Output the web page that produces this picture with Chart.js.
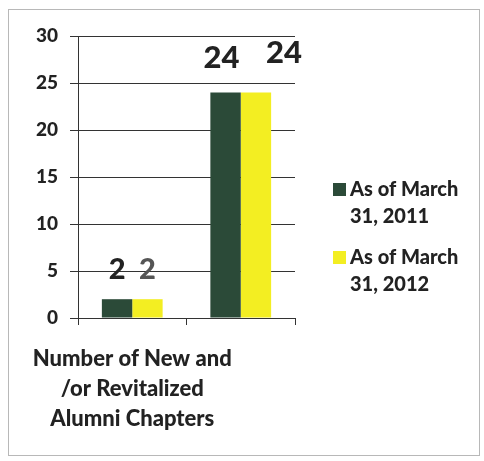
<!DOCTYPE html>
<html>
<head>
<meta charset="utf-8">
<script src="https://cdn.jsdelivr.net/npm/chart.js@4/dist/chart.umd.min.js"></script>
<style>
  html, body { margin: 0; padding: 0; background: #fff; }
  #wrap { position: relative; width: 484px; height: 461px; }
  #frame { position: absolute; left: 8px; top: 9px; width: 472px; height: 447px; border: 1px solid #b8b8b8; box-sizing: border-box; }
</style>
</head>
<body>
<div id="wrap">
  <div id="frame"></div>
  <canvas id="chart" width="484" height="461"></canvas>
</div>
<script>
// Chapters counts
const categories = [['Number of New and', '/or Revitalized', 'Alumni Chapters'], ''];
const series2011 = [2, 24];
const series2012 = [2, 24];
const seriesNames = [['As of March', '31, 2011'], ['As of March', '31, 2012']];
const yTicks = [0, 5, 10, 15, 20, 25, 30];

const FONT = 'Lato, "Open Sans", sans-serif';
const DARK = '#2b4a38';
const YELLOW = '#f3ee22';

// value labels above bars, offsets per dataset/bar
const labelOffsets = [
  [{ dx: 0, dy: -30, color: '#222' }, { dx: -4, dy: -34, color: '#222' }],
  [{ dx: 0, dy: -30, color: '#555' }, { dx: 28, dy: -39, color: '#222' }],
];

const valueLabels = {
  id: 'valueLabels',
  afterDatasetsDraw(chart) {
    const ctx = chart.ctx;
    ctx.save();
    ctx.textAlign = 'center';
    ctx.textBaseline = 'middle';
    chart.data.datasets.forEach((ds, di) => {
      chart.getDatasetMeta(di).data.forEach((bar, i) => {
        const o = labelOffsets[di][i];
        const size = ds.data[i] >= 10 ? 31 : 29;
        ctx.font = `900 ${size}px ${FONT}`;
        ctx.fillStyle = o.color;
        ctx.fillText(String(ds.data[i]), bar.x + o.dx, bar.y + o.dy);
      });
    });
    ctx.restore();
  }
};

// legend on the right, two-line entries
const sideLegend = {
  id: 'sideLegend',
  afterDraw(chart) {
    const ctx = chart.ctx;
    ctx.save();
    ctx.font = `900 20px ${FONT}`;
    ctx.textBaseline = 'middle';
    ctx.textAlign = 'left';
    const x = 333, tops = [190, 258];
    chart.data.datasets.forEach((ds, di) => {
      const y = tops[di];
      ctx.fillStyle = ds.backgroundColor;
      ctx.fillRect(x, y - 7, 13, 13);
      ctx.fillStyle = '#222';
      seriesNames[di].forEach((line, li) => {
        ctx.fillText(line, x + 17, y + li * 27);
      });
    });
    ctx.restore();
  }
};

new Chart(document.getElementById('chart'), {
  type: 'bar',
  data: {
    labels: categories,
    datasets: [
      { label: 'As of March 31, 2011', data: series2011, backgroundColor: DARK, barPercentage: 1, categoryPercentage: 0.56 },
      { label: 'As of March 31, 2012', data: series2012, backgroundColor: YELLOW, barPercentage: 1, categoryPercentage: 0.56 },
    ]
  },
  options: {
    responsive: false,
    animation: false,
    layout: { padding: { left: 0, top: 36, right: 189, bottom: 0 } },
    plugins: { legend: { display: false }, tooltip: { enabled: false } },
    scales: {
      x: {
        // the wide category label may spill left of the axis, don't reserve room for it
        afterFit(s) { s.height = 143; s.paddingLeft = 0; s.paddingRight = 0; },
        grid: { drawOnChartArea: false, drawTicks: true, tickLength: 7, color: '#333', offset: true },
        border: { color: '#333', width: 1 },
        ticks: { color: '#222', padding: 19, maxRotation: 0, autoSkip: false, font: { family: FONT, size: 22, weight: '900', lineHeight: '30px' } }
      },
      y: {
        min: 0, max: 30,
        afterFit(s) { s.width = 78; },
        afterBuildTicks(s) { s.ticks = yTicks.map(v => ({ value: v })); },
        grid: { color: '#333', lineWidth: 1, tickLength: 8 },
        border: { color: '#333', width: 1 },
        ticks: { color: '#222', padding: 12, font: { family: FONT, size: 19, weight: '900' } }
      }
    }
  },
  plugins: [valueLabels, sideLegend]
});
</script>
</body>
</html>
